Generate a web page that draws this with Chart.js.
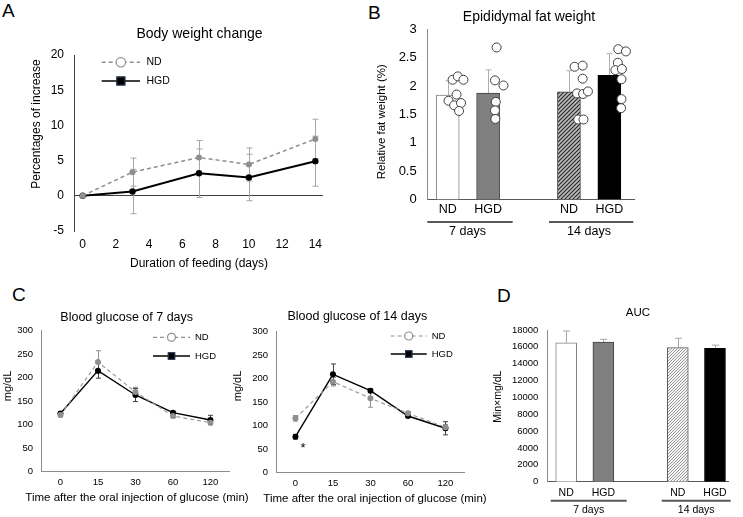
<!DOCTYPE html>
<html>
<head>
<meta charset="utf-8">
<script src="https://cdn.jsdelivr.net/npm/chart.js@4.4.1/dist/chart.umd.min.js"></script>
<style>
  body { margin: 0; background: #fff; }
  #page { position: relative; width: 743px; height: 517px; overflow: hidden; font-family: "Liberation Sans", Arial, sans-serif; }
  canvas { position: absolute; }
  .tag { position: absolute; font-size: 19px; line-height: 19px; color: #000; }
</style>
</head>
<body>
<div id="page">
  <div class="tag" style="left:2px;top:1px">A</div>
  <div class="tag" style="left:368px;top:3px">B</div>
  <div class="tag" style="left:12px;top:285px">C</div>
  <div class="tag" style="left:497px;top:286px">D</div>
  <canvas id="chartA" width="370" height="290" style="left:0;top:0"></canvas>
  <canvas id="chartB" width="300" height="250" style="left:360px;top:0"></canvas>
  <canvas id="chartC1" width="252" height="227" style="left:0;top:290px"></canvas>
  <canvas id="chartC2" width="268" height="227" style="left:232px;top:290px"></canvas>
  <canvas id="chartD" width="253" height="227" style="left:490px;top:290px"></canvas>
</div>
<script>
// A: body weight change (% increase)
const weightDays = [0, 3, 7, 10, 14];
const weightTicks = [0, 2, 4, 6, 8, 10, 12, 14];
const weightND = [0, 3.36, 5.44, 4.45, 8.08];
const weightNDErr = [0, 2.0, 2.4, 2.35, 2.8];
const weightHGD = [0, 0.61, 3.21, 2.6, 4.92];
const weightHGDErr = [0, 3.15, 3.45, 3.3, 3.55];

// B: epididymal fat weight (%)
const fatLabels = ['ND', 'HGD', 'ND', 'HGD'];
const periodLabels = ['7 days', '14 days'];
const fatMean = [1.84, 1.875, 1.90, 2.19];
const fatErr = [0.25, 0.41, 0.37, 0.38];
const fatND7 = [2.11, 2.17, 2.11, 1.85, 1.74, 1.66, 1.70, 1.56];
const fatHGD7 = [2.68, 2.10, 2.01, 1.72, 1.57, 1.42];
const fatND14 = [2.34, 2.36, 2.13, 1.87, 1.86, 1.905, 1.41, 1.41];
const fatHGD14 = [2.65, 2.61, 2.41, 2.28, 2.30, 2.12, 1.77, 1.61];

// C: blood glucose (mg/dL)
const glucoseTimes = ['0', '15', '30', '60', '120'];
const glucose7ND = [120.6, 233.4, 169.6, 118.5, 104.3];
const glucose7NDErr = [4, 24, 10, 4, 4];
const glucose7HGD = [124, 215, 163.2, 125.6, 110];
const glucose7HGDErr = [4, 16, 14, 3, 10];
const glucose14ND = [115.7, 193.6, 158.3, 126.4, 96.6];
const glucose14NDErr = [6, 9, 19, 4, 6];
const glucose14HGD = [76.6, 209.4, 174.5, 120.6, 94.5];
const glucose14HGDErr = [5, 22, 4, 3, 14];

// D: AUC
const aucMean = [16480, 16560, 15920, 15830];
const aucErr = [1400, 340, 1100, 370];

// layout helpers (not data)
const barSlots = [0, 1, 3, 4];
const dotShift = [
  [0.12, 0.25, 0.39, 0.22, 0.02, 0.16, 0.33, 0.28],
  [0.21, 0.17, 0.38, 0.19, 0.17, 0.18],
  [0.14, 0.34, 0.34, 0.20, 0.35, 0.47, 0.23, 0.36],
  [0.22, 0.41, 0.21, 0.15, 0.31, 0.30, 0.30, 0.29]
];

const FONT = '"Liberation Sans", Arial, Helvetica, sans-serif';
Chart.defaults.font.family = FONT;
Chart.defaults.color = '#000';
Chart.defaults.animation = false;
Chart.defaults.responsive = false;
Chart.defaults.plugins.legend.display = false;
Chart.defaults.plugins.tooltip.enabled = false;

function txt(ctx, s, x, y, size, align, rot) {
  ctx.save();
  ctx.font = size + 'px ' + FONT;
  ctx.fillStyle = '#000';
  ctx.textAlign = align || 'center';
  ctx.textBaseline = 'middle';
  ctx.translate(x, y);
  if (rot) ctx.rotate(rot);
  ctx.fillText(s, 0, 0);
  ctx.restore();
}

function line(ctx, x1, y1, x2, y2, color, w) {
  ctx.save();
  ctx.strokeStyle = color;
  ctx.lineWidth = w;
  ctx.beginPath();
  ctx.moveTo(x1, y1);
  ctx.lineTo(x2, y2);
  ctx.stroke();
  ctx.restore();
}

// error bars from the dataset values through the y scale
function errBars(chart, idx, errs, color, cap, upOnly) {
  const meta = chart.getDatasetMeta(idx);
  const ys = chart.scales.y;
  const vals = chart.data.datasets[idx].data;
  const ctx = chart.ctx;
  ctx.save();
  ctx.strokeStyle = color;
  ctx.lineWidth = 1;
  meta.data.forEach((el, i) => {
    if (!errs[i]) return;
    const v = typeof vals[i] === 'object' ? vals[i].y : vals[i];
    const x = Math.round(el.x) + 0.5;
    const y1 = ys.getPixelForValue(v + errs[i]);
    const y2 = ys.getPixelForValue(upOnly ? v : v - errs[i]);
    ctx.beginPath();
    ctx.moveTo(x, y1); ctx.lineTo(x, y2);
    ctx.moveTo(x - cap, y1); ctx.lineTo(x + cap, y1);
    if (!upOnly) { ctx.moveTo(x - cap, y2); ctx.lineTo(x + cap, y2); }
    ctx.stroke();
  });
  ctx.restore();
}

function legendRow(ctx, x1, x2, y, label, o) {
  ctx.save();
  ctx.strokeStyle = o.color;
  ctx.lineWidth = o.width;
  ctx.setLineDash(o.dash || []);
  ctx.beginPath(); ctx.moveTo(x1, y); ctx.lineTo(x2, y); ctx.stroke();
  ctx.setLineDash([]);
  const mx = (x1 + x2) / 2;
  if (o.marker === 'circle') {
    ctx.fillStyle = '#fff';
    ctx.lineWidth = 1.2;
    ctx.beginPath(); ctx.arc(mx, y, o.size, 0, Math.PI * 2); ctx.fill(); ctx.stroke();
  } else {
    ctx.fillStyle = '#000';
    ctx.fillRect(mx - o.size, y - o.size, o.size * 2, o.size * 2);
    ctx.strokeStyle = '#2b3a5a';
    ctx.lineWidth = 1;
    ctx.strokeRect(mx - o.size + 0.5, y - o.size + 0.5, o.size * 2 - 1, o.size * 2 - 1);
  }
  ctx.restore();
  txt(ctx, label, x2 + o.gap, y, o.font, 'left');
}

function hatch(fg, bg, size, lw) {
  const c = document.createElement('canvas');
  c.width = c.height = size;
  const g = c.getContext('2d');
  g.fillStyle = bg;
  g.fillRect(0, 0, size, size);
  g.strokeStyle = fg;
  g.lineWidth = lw;
  g.beginPath();
  g.moveTo(0, size); g.lineTo(size, 0);
  g.moveTo(-1, 1); g.lineTo(1, -1);
  g.moveTo(size - 1, size + 1); g.lineTo(size + 1, size - 1);
  g.stroke();
  return g.createPattern(c, 'repeat');
}

const ndLegend = { color: '#8f8f8f', width: 1.5, dash: [4, 3], marker: 'circle' };
const hgdLegend = { color: '#000', width: 1.6, marker: 'square' };

// ---------- A ----------
new Chart(document.getElementById('chartA'), {
  type: 'line',
  data: {
    datasets: [
      {
        label: 'ND',
        data: weightDays.map((d, i) => ({ x: d, y: weightND[i] })),
        borderColor: '#8f8f8f', borderWidth: 1.5, borderDash: [4, 3],
        pointRadius: 3, pointBackgroundColor: '#8f8f8f', pointBorderWidth: 0
      },
      {
        label: 'HGD',
        data: weightDays.map((d, i) => ({ x: d, y: weightHGD[i] })),
        borderColor: '#000', borderWidth: 2,
        pointRadius: 3.2, pointBackgroundColor: '#000', pointBorderWidth: 0
      }
    ]
  },
  options: {
    layout: { padding: { left: 0, top: 55, right: 47, bottom: 18 } },
    scales: {
      x: {
        type: 'linear', min: -0.52, max: 14.46,
        afterBuildTicks: s => { s.ticks = weightTicks.map(v => ({ value: v })); },
        afterFit: s => { s.height = 41; },
        grid: { display: false, drawTicks: false },
        border: { display: false },
        ticks: { font: { size: 12 }, padding: 6 }
      },
      y: {
        min: -5, max: 20,
        afterFit: s => { s.width = 74; },
        ticks: { stepSize: 5, font: { size: 12 }, padding: 10 },
        grid: { drawTicks: false, color: c => (c.tick && c.tick.value === 0 ? '#404040' : 'rgba(0,0,0,0)') },
        border: { color: '#404040' }
      }
    }
  },
  plugins: [{
    id: 'decoA',
    beforeDatasetsDraw(c) {
      errBars(c, 0, weightNDErr, '#a6a6a6', 3, false);
      errBars(c, 1, weightHGDErr, '#a6a6a6', 3, false);
    },
    afterDraw(c) {
      const ctx = c.ctx;
      txt(ctx, 'Body weight change', 199.5, 34, 14);
      txt(ctx, 'Percentages of increase', 36.7, 124, 12, 'center', -Math.PI / 2);
      txt(ctx, 'Duration of feeding (days)', 199, 264, 12);
      legendRow(ctx, 101.7, 140, 62.3, 'ND', Object.assign({ size: 4.7, gap: 6.5, font: 10.5 }, ndLegend));
      legendRow(ctx, 101.7, 140, 81, 'HGD', Object.assign({ size: 4.5, gap: 6.5, font: 10.5 }, hgdLegend));
    }
  }]
});

// ---------- B ----------
const fatDots = [fatND7, fatHGD7, fatND14, fatHGD14]
  .flatMap((arr, g) => arr.map((v, k) => ({ x: barSlots[g] + dotShift[g][k], y: v })));

new Chart(document.getElementById('chartB'), {
  type: 'bar',
  data: {
    datasets: [
      {
        type: 'scatter', order: 0, data: fatDots,
        pointRadius: 4.5, pointBackgroundColor: '#fff', pointBorderColor: '#404040', pointBorderWidth: 1
      },
      {
        type: 'bar', order: 1,
        data: barSlots.map((s, i) => ({ x: s, y: fatMean[i] })),
        backgroundColor: ['#fff', '#808080', hatch('#2a2a2a', '#bdbdbd', 4, 1.2), '#000'],
        borderColor: ['#808080', '#404040', '#404040', '#000'],
        borderWidth: 1, barThickness: 23
      }
    ]
  },
  options: {
    layout: { padding: { left: 0, top: 29.3, right: 26, bottom: 10.5 } },
    scales: {
      x: {
        type: 'linear', offset: false, min: -0.495, max: 4.61,
        afterBuildTicks: s => { s.ticks = barSlots.map(v => ({ value: v })); },
        afterFit: s => { s.height = 40; },
        ticks: { callback: (v, i) => fatLabels[i], font: { size: 12.5 }, padding: 3 },
        grid: { display: false, drawTicks: false, offset: false },
        border: { color: '#595959' }
      },
      y: {
        min: 0, max: 3,
        afterFit: s => { s.width = 67.7; },
        ticks: { stepSize: 0.5, font: { size: 13 }, padding: 11, callback: v => String(v) },
        grid: { display: false, drawTicks: false },
        border: { color: '#8c8c8c' }
      }
    }
  },
  plugins: [{
    id: 'decoB',
    beforeDatasetsDraw(c) { errBars(c, 1, fatErr, '#b0b0b0', 3, true); },
    afterDraw(c) {
      const ctx = c.ctx;
      txt(ctx, 'Epididymal fat weight', 169, 17, 14);
      txt(ctx, 'Relative fat weight (%)', 21.7, 121.7, 11.5, 'center', -Math.PI / 2);
      line(ctx, 67.3, 222, 152.7, 222, '#595959', 2);
      line(ctx, 189, 222, 273.3, 222, '#595959', 2);
      txt(ctx, periodLabels[0], 107.5, 232, 12.5);
      txt(ctx, periodLabels[1], 229, 232, 12.5);
    }
  }]
});

// ---------- C ----------
function glucoseChart(id, nd, ndErr, hgd, hgdErr, box, deco) {
  return new Chart(document.getElementById(id), {
    type: 'line',
    data: {
      labels: glucoseTimes,
      datasets: [
        {
          label: 'ND', data: nd,
          borderColor: '#9a9a9a', borderWidth: 1.2, borderDash: [4, 3],
          pointRadius: 3, pointBackgroundColor: '#8f8f8f', pointBorderWidth: 0
        },
        {
          label: 'HGD', data: hgd,
          borderColor: '#000', borderWidth: 1.4,
          pointRadius: 3, pointBackgroundColor: '#000', pointBorderWidth: 0
        }
      ]
    },
    options: {
      layout: { padding: { left: 0, top: box.top, right: box.right, bottom: box.bottom } },
      scales: {
        x: {
          offset: true,
          afterFit: s => { s.height = 30; },
          ticks: { font: { size: 9.5 }, padding: 5 },
          grid: { display: false, drawTicks: false },
          border: { color: '#8c8c8c' }
        },
        y: {
          min: 0, max: 300,
          afterFit: s => { s.width = box.left; },
          ticks: { stepSize: 50, font: { size: 9.5 }, padding: 8.7 },
          grid: { display: false, drawTicks: false },
          border: { color: '#8c8c8c' }
        }
      }
    },
    plugins: [{
      id: 'deco' + id,
      beforeDatasetsDraw(c) {
        errBars(c, 0, ndErr, '#8f8f8f', 2.5, false);
        errBars(c, 1, hgdErr, '#404040', 2.5, false);
      },
      afterDraw: deco
    }]
  });
}

glucoseChart('chartC1', glucose7ND, glucose7NDErr, glucose7HGD, glucose7HGDErr,
  { left: 41.7, top: 40.7, right: 22.8, bottom: 15.3 },
  c => {
    const ctx = c.ctx;
    txt(ctx, 'Blood glucose of 7 days', 126.7, 27.5, 12.5);
    txt(ctx, 'mg/dL', 7.5, 96, 11, 'center', -Math.PI / 2);
    txt(ctx, 'Time after the oral injection of glucose (min)', 137, 208, 11.5);
    legendRow(ctx, 153, 190, 47.3, 'ND', Object.assign({ size: 4, gap: 5, font: 9.5 }, ndLegend, { width: 1.2 }));
    legendRow(ctx, 153, 190, 66, 'HGD', Object.assign({ size: 3.7, gap: 5, font: 9.5 }, hgdLegend, { width: 1.4 }));
  });

glucoseChart('chartC2', glucose14ND, glucose14NDErr, glucose14HGD, glucose14HGDErr,
  { left: 44.7, top: 41.7, right: 35.8, bottom: 14.3 },
  c => {
    const ctx = c.ctx;
    txt(ctx, 'Blood glucose of 14 days', 125.3, 26.5, 12.5);
    txt(ctx, 'mg/dL', 6.3, 96, 11, 'center', -Math.PI / 2);
    txt(ctx, 'Time after the oral injection of glucose (min)', 143, 209.3, 11.5);
    legendRow(ctx, 158.7, 194.7, 46, 'ND', Object.assign({ size: 4, gap: 5, font: 9.5 }, ndLegend, { width: 1.2 }));
    legendRow(ctx, 158.7, 194.7, 64, 'HGD', Object.assign({ size: 3.7, gap: 5, font: 9.5 }, hgdLegend, { width: 1.4 }));
    const p = c.getDatasetMeta(1).data[0];
    txt(ctx, '*', p.x + 7.7, p.y + 12, 13);
  });

// ---------- D ----------
new Chart(document.getElementById('chartD'), {
  type: 'bar',
  data: {
    datasets: [{
      data: barSlots.map((s, i) => ({ x: s, y: aucMean[i] })),
      backgroundColor: ['#fff', '#808080', hatch('#9a9a9a', '#f4f4f4', 3, 1), '#000'],
      borderColor: ['#808080', '#404040', '#595959', '#000'],
      borderWidth: 1, barThickness: 21
    }]
  },
  options: {
    layout: { padding: { left: 0, top: 40, right: 15, bottom: 15.3 } },
    scales: {
      x: {
        type: 'linear', offset: false, min: -0.508, max: 4.35,
        afterBuildTicks: s => { s.ticks = barSlots.map(v => ({ value: v })); },
        afterFit: s => { s.height = 20; },
        ticks: { callback: (v, i) => fatLabels[i], font: { size: 10.5 }, padding: 5.3 },
        grid: { display: false, drawTicks: false, offset: false },
        border: { color: '#595959' }
      },
      y: {
        min: 0, max: 18000,
        afterFit: s => { s.width = 57.3; },
        ticks: { stepSize: 2000, font: { size: 9.5 }, padding: 9, callback: v => String(v) },
        grid: { display: false, drawTicks: false },
        border: { color: '#8c8c8c' }
      }
    }
  },
  plugins: [{
    id: 'decoD',
    beforeDatasetsDraw(c) { errBars(c, 0, aucErr, '#a6a6a6', 3.5, true); },
    afterDraw(c) {
      const ctx = c.ctx;
      txt(ctx, 'AUC', 148, 23.3, 11.5);
      txt(ctx, 'Min×mg/dL', 8, 106.7, 10.5, 'center', -Math.PI / 2);
      line(ctx, 60.7, 210.7, 136.7, 210.7, '#595959', 2);
      line(ctx, 171.7, 210.7, 240.7, 210.7, '#595959', 2);
      txt(ctx, periodLabels[0], 98.7, 220, 10.5);
      txt(ctx, periodLabels[1], 206.2, 220, 10.5);
    }
  }]
});
</script>
</body>
</html>
